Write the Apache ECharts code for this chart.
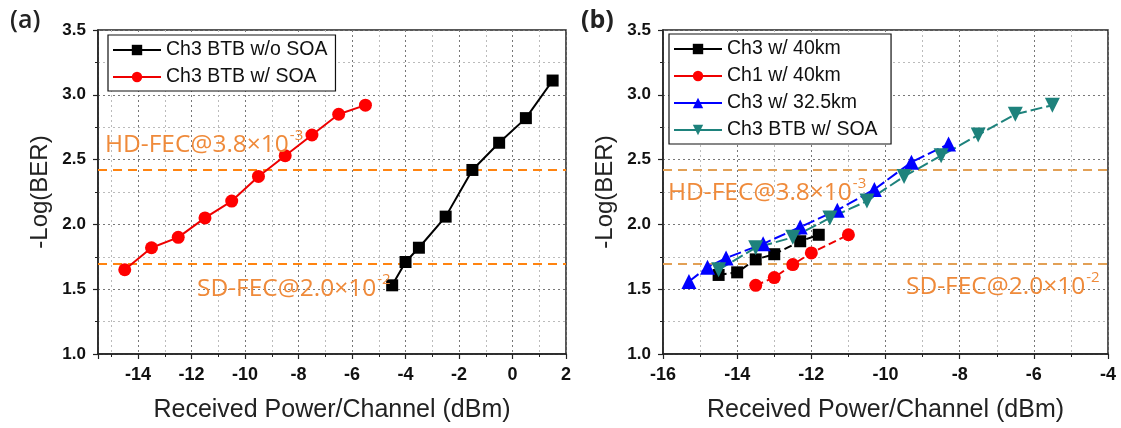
<!DOCTYPE html>
<html><head><meta charset="utf-8">
<script src="https://cdn.jsdelivr.net/npm/echarts@6/dist/echarts.min.js"></script>
<style>html,body{margin:0;padding:0;background:#fff}#c{width:1121px;height:428px}</style>
</head><body><div id="c"></div>
<script>
// FEC thresholds (-log10 BER)
const hdFec = 2.42;   // 3.8e-3
const sdFec = 1.70;   // 2.0e-2
const yTicks = [1.0, 1.5, 2.0, 2.5, 3.0, 3.5];
// (a)
const noSoaX = [-4.5, -4, -3.5, -2.5, -1.5, -0.5, 0.5, 1.5];
const noSoaY = [1.53, 1.71, 1.82, 2.06, 2.42, 2.63, 2.82, 3.11];
const btbSoaX = [-14.5, -13.5, -12.5, -11.5, -10.5, -9.5, -8.5, -7.5, -6.5, -5.5];
const btbSoaY = [1.65, 1.82, 1.90, 2.05, 2.18, 2.37, 2.53, 2.69, 2.85, 2.92];
// (b)
const ch3km40X = [-14.5, -14, -13.5, -13, -12.3, -11.8];
const ch3km40Y = [1.61, 1.63, 1.73, 1.77, 1.87, 1.92];
const ch1km40X = [-13.5, -13, -12.5, -12, -11];
const ch1km40Y = [1.53, 1.59, 1.69, 1.78, 1.92];
const ch3km325X = [-15.3, -14.8, -14.3, -13.3, -12.3, -11.3, -10.3, -9.3, -8.3];
const ch3km325Y = [1.56, 1.67, 1.74, 1.85, 1.98, 2.11, 2.27, 2.48, 2.62];

const namesA = ['Ch3 BTB w/o SOA', 'Ch3 BTB w/ SOA'];
const namesB = ['Ch3 w/ 40km', 'Ch1 w/ 40km', 'Ch3 w/ 32.5km', 'Ch3 BTB w/ SOA '];
const hdText = ['HD-FEC@3.8×10', '-3'];
const sdText = ['SD-FEC@2.0×10', '-2'];

const zip = (xs, ys) => xs.map((x, i) => [x, ys[i]]);
const F = 'Liberation Sans, Arial, sans-serif';

function xAxis(grid, min, max, extra) {
  return Object.assign({
    type: 'value', gridIndex: grid, min: min, max: max,
    axisLine: {show: true, onZero: false, lineStyle: {color: '#222', width: 1.5}},
    axisTick: {show: true, length: 5, lineStyle: {color: '#222', width: 1.2}},
    minorTick: {show: true, splitNumber: 2, length: 3, lineStyle: {color: '#222', width: 1}},
    axisLabel: {fontFamily: F, fontWeight: 'bold', fontSize: 18, color: '#111', margin: 12, showMinLabel: grid === 1},
    splitLine: {show: true, lineStyle: {color: '#777', type: [2, 3], width: 1}},
    minorSplitLine: {show: true, lineStyle: {color: '#bbb', type: [2, 3], width: 1}},
    name: 'Received Power/Channel (dBm)', nameLocation: 'middle', nameGap: 44,
    nameTextStyle: {fontFamily: F, fontSize: 25, color: '#222'}
  }, extra || {});
}
function yAxis(grid) {
  return {
    type: 'value', gridIndex: grid, min: yTicks[0], max: yTicks[yTicks.length - 1], interval: 0.5,
    axisLine: {show: true, onZero: false, lineStyle: {color: '#222', width: 1.5}},
    axisTick: {show: true, length: 5, lineStyle: {color: '#222', width: 1.2}},
    minorTick: {show: true, splitNumber: 2, length: 3, lineStyle: {color: '#222', width: 1}},
    axisLabel: {fontFamily: F, fontWeight: 'bold', fontSize: 17, color: '#111', margin: 12, formatter: v => v.toFixed(1)},
    splitLine: {show: true, lineStyle: {color: '#777', type: [2, 3], width: 1}},
    minorSplitLine: {show: true, lineStyle: {color: '#bbb', type: [2, 3], width: 1}},
    name: '-Log(BER)', nameLocation: 'middle', nameGap: 46, nameRotate: 90,
    nameTextStyle: {fontFamily: F, fontSize: 24, color: '#222'}
  };
}
function line(name, xi, xs, ys, color, symbol, size, extra) {
  return Object.assign({
    type: 'line', name: name, xAxisIndex: xi, yAxisIndex: xi,
    data: zip(xs, ys), symbol: symbol, symbolSize: size,
    lineStyle: {color: color, width: 2}, itemStyle: {color: color},
    z: 5, animation: false
  }, extra || {});
}
function fecMark(color) {
  return {
    silent: true, symbol: 'none', label: {show: false},
    lineStyle: {color: color, width: 2.2, type: [9, 6]},
    data: [{yAxis: hdFec}, {yAxis: sdFec}]
  };
}
function fecLabel(parts, left, cy) {
  return {
    type: 'text', left: left, top: cy - 17, z: 20,
    style: {
      text: '{a|' + parts[0] + '}{s|' + parts[1] + '}',
      rich: {
        a: {fontFamily: 'Open Sans, Noto Sans, sans-serif', fontSize: 24.5, fill: '#EF8A3A', lineHeight: 34, verticalAlign: 'bottom'},
        s: {fontFamily: 'Open Sans, Noto Sans, sans-serif', fontSize: 15, fill: '#EF8A3A', lineHeight: 34, verticalAlign: 'top', padding: [4, 0, 0, 1]}
      }
    }
  };
}
const legendBase = {
  orient: 'vertical', backgroundColor: '#fff', borderColor: '#111', borderWidth: 1.2,
  padding: [5, 8, 4, 4], itemWidth: 48, itemHeight: 13, itemGap: 7,
  lineStyle: {type: 'solid', width: 2},
  textStyle: {fontFamily: F, fontSize: 19.5, color: '#111'}
};

const chart = echarts.init(document.getElementById('c'), null, {renderer: 'canvas'});
chart.setOption({
  animation: false,
  grid: [
    {left: 98, right: 555, top: 30, bottom: 73, show: true, borderColor: '#222', borderWidth: 1.5},
    {left: 663, right: 13, top: 30, bottom: 73, show: true, borderColor: '#222', borderWidth: 1.5}
  ],
  xAxis: [
    xAxis(0, -15.5, 2, {splitNumber: 8}),
    xAxis(1, -16, -4, {interval: 2})
  ],
  yAxis: [yAxis(0), yAxis(1)],
  legend: [
    Object.assign({}, legendBase, {left: 108, top: 35, data: namesA}),
    Object.assign({}, legendBase, {left: 669, top: 34, data: namesB})
  ],
  series: [
    line(namesA[0], 0, noSoaX, noSoaY, '#000', 'rect', 12, {markLine: fecMark('#FF8410')}),
    line(namesA[1], 0, btbSoaX, btbSoaY, '#EE0000', 'circle', 13, {itemStyle: {color: '#FF0000'}}),
    line(namesB[0], 1, ch3km40X, ch3km40Y, '#000', 'rect', 12, {lineStyle: {color: '#000', width: 2, type: [8, 4]}, markLine: fecMark('#E2A055')}),
    line(namesB[1], 1, ch1km40X, ch1km40Y, '#EE0000', 'circle', 13, {itemStyle: {color: '#FF0000'}, lineStyle: {color: '#EE0000', width: 2, type: [8, 4]}}),
    line(namesB[2], 1, ch3km325X, ch3km325Y, '#0000FF', 'triangle', 15, {lineStyle: {color: '#0000FF', width: 2, type: [12, 4]}}),
    line(namesB[3], 1, btbSoaX, btbSoaY, '#1E827C', 'triangle', 15, {symbolRotate: 180, lineStyle: {color: '#1E827C', width: 2, type: [12, 4]}})
  ],
  graphic: [
    fecLabel(hdText, 105, 141), fecLabel(sdText, 197, 285),
    fecLabel(hdText, 668, 189), fecLabel(sdText, 906, 283),
    {type: 'text', left: 10, top: 8, style: {text: '(a)', font: '600 25px "Open Sans", "Noto Sans", sans-serif', fill: '#222'}},
    {type: 'text', left: 581, top: 8, style: {text: '(b)', font: 'bold 25px "Open Sans", "Noto Sans", sans-serif', fill: '#222'}}
  ]
});
</script></body></html>
